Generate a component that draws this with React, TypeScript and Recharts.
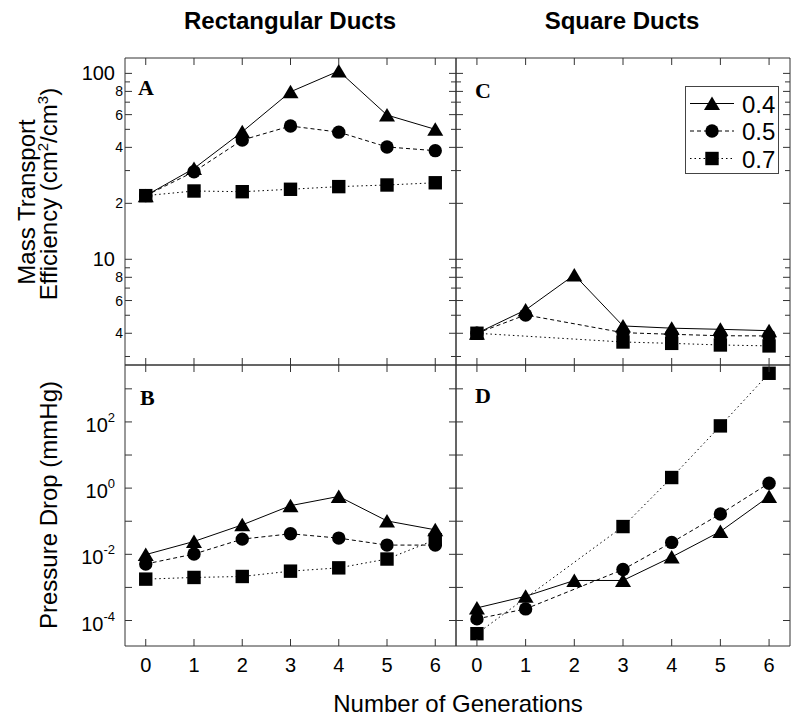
import React from 'react';
import { LineChart, Line, XAxis, YAxis, ReferenceArea, Legend } from 'recharts';

// ---------- data ----------
const generations = [0, 1, 2, 3, 4, 5, 6];
const seriesLabels = ['0.4', '0.5', '0.7'];

// Panel A: rectangular ducts, mass transport efficiency (cm2/cm3)
const rectEfficiency04 = [22, 30.8, 48.5, 79.6, 103, 59.7, 50];
const rectEfficiency05 = [22, 29.6, 43.8, 52.1, 48.3, 40.2, 38.4];
const rectEfficiency07 = [22, 23.3, 23.1, 23.8, 24.6, 25.1, 25.8];

// Panel C: square ducts, mass transport efficiency
const squareEfficiency04 = [4.0, 5.34, 8.24, 4.38, 4.26, 4.2, 4.13];
const squareEfficiency05 = [4.0, 5.02, null, 4.03, 3.95, 3.88, 3.87];
const squareEfficiency07 = [4.0, null, null, 3.59, 3.53, 3.46, 3.42];

// Panel B: rectangular ducts, pressure drop (mmHg)
const rectPressure04 = [0.0098, 0.0245, 0.0776, 0.295, 0.562, 0.102, 0.055];
const rectPressure05 = [0.0051, 0.0102, 0.0288, 0.0417, 0.0309, 0.019, 0.019];
const rectPressure07 = [0.00178, 0.002, 0.00214, 0.0031, 0.0039, 0.0072, 0.0275];

// Panel D: square ducts, pressure drop (mmHg)
const squarePressure04 = [0.00024, 0.00054, 0.00162, 0.00162, 0.0083, 0.049, 0.56];
const squarePressure05 = [0.000112, 0.000224, null, 0.00347, 0.0229, 0.166, 1.41];
const squarePressure07 = [0.00004, null, null, 0.069, 2.09, 75.9, 2950];

// axis ticks
const efficiencyTicks = [3, 4, 5, 6, 7, 8, 9, 10, 20, 30, 40, 50, 60, 70, 80, 90, 100];
const efficiencyMajorLabels: Record<number, string> = { 100: '100', 10: '10' };
const efficiencyMinorLabels: Record<number, string> = { 80: '8', 60: '6', 40: '4', 20: '2', 8: '8', 6: '6', 4: '4' };
const pressureTicks = [1e-4, 1e-3, 1e-2, 1e-1, 1, 10, 100, 1000];
const pressureLabelExponents = [-4, -2, 0, 2];

// ---------- layout / style ----------
const W = 800;
const H = 725;
const X_DOMAIN: [number, number] = [-0.43, 6.43];
const EFF_DOMAIN: [number, number] = [2.7, 121];
const DROP_DOMAIN: [number, number] = [Math.pow(10, -4.77), Math.pow(10, 3.72)];
const FONT = '"Liberation Sans", Arial, Helvetica, sans-serif';
const SERIF = '"Liberation Serif", "Times New Roman", serif';
const FRAME = '#333';
const YW = 50;
const XH = 40;

const COL_LEFT = [125, 456];
const COL_RIGHT = [456, 790];
const ROW_TOP = [58, 365];
const ROW_BOTTOM = [365, 646];

type Shape = 'triangle' | 'circle' | 'square';

function buildData(a: (number | null)[], b: (number | null)[], c: (number | null)[]) {
  return generations.map((g, i) => ({ g, s04: a[i], s05: b[i], s07: c[i] }));
}

function markerRenderer(shape: Shape) {
  return (props: any) => {
    const { cx, cy, index, value } = props;
    const key = `${shape}-${index}`;
    if (cx == null || cy == null || value == null || Number.isNaN(cy)) return <g key={key} />;
    if (shape === 'triangle') {
      return (
        <path key={key} d={`M${cx},${cy - 7} L${cx + 8},${cy + 6.5} L${cx - 8},${cy + 6.5} Z`} fill="#000" />
      );
    }
    if (shape === 'circle') return <circle key={key} cx={cx} cy={cy} r={6.7} fill="#000" />;
    return <rect key={key} x={cx - 6.7} y={cy - 6.7} width={13.4} height={13.4} fill="#000" />;
  };
}

function yTickRenderer(plotW: number, kind: 'eff' | 'drop', showLabels: boolean) {
  return (props: any) => {
    const { x, y, payload, index } = props;
    const v = payload.value as number;
    let len = 7;
    let label: React.ReactNode = null;
    if (kind === 'eff') {
      const major = efficiencyMajorLabels[v];
      const minor = efficiencyMinorLabels[v];
      len = major || minor ? 7 : 5;
      if (showLabels && major) {
        label = (
          <text x={x - 10} y={y + 7} textAnchor="end" fontSize={20} fontFamily={FONT} fill="#000">
            {major}
          </text>
        );
      } else if (showLabels && minor) {
        label = (
          <text x={x - 2} y={y + 5} textAnchor="end" fontSize={14} fontFamily={FONT} fill="#000">
            {minor}
          </text>
        );
      }
    } else {
      const e = Math.round(Math.log10(v));
      if (showLabels && pressureLabelExponents.includes(e)) {
        label = (
          <text x={x - 10} y={y + 10} textAnchor="end" fontSize={20} fontFamily={FONT} fill="#000">
            <tspan>10</tspan>
            <tspan dy={-10} fontSize={13}>{String(e)}</tspan>
          </text>
        );
      }
    }
    return (
      <g key={`yt-${index}`}>
        <line x1={x} x2={x + len} y1={y} y2={y} stroke={FRAME} strokeWidth={1} />
        <line x1={x + plotW - len} x2={x + plotW} y1={y} y2={y} stroke={FRAME} strokeWidth={1} />
        {label}
      </g>
    );
  };
}

function xTickRenderer(plotH: number, showLabels: boolean) {
  return (props: any) => {
    const { x, y, payload, index } = props;
    return (
      <g key={`xt-${index}`}>
        <line x1={x} x2={x} y1={y} y2={y - 7} stroke={FRAME} strokeWidth={1} />
        <line x1={x} x2={x} y1={y - plotH} y2={y - plotH + 7} stroke={FRAME} strokeWidth={1} />
        {showLabels && (
          <text x={x} y={y + 26} textAnchor="middle" fontSize={20} fontFamily={FONT} fill="#000">
            {payload.value}
          </text>
        )}
      </g>
    );
  };
}

const LegendBox = () => (
  <div style={{ width: 94, height: 88, border: '1px solid #444', background: '#fff', boxSizing: 'border-box' }}>
    <svg width={92} height={86} style={{ display: 'block' }}>
      {seriesLabels.map((lab, i) => {
        const cy = 16.5 + i * 27.5;
        const shape: Shape = i === 0 ? 'triangle' : i === 1 ? 'circle' : 'square';
        const dash = i === 0 ? undefined : i === 1 ? '4 3' : '1.5 3';
        const Marker = markerRenderer(shape);
        return (
          <g key={lab}>
            <line x1={4} x2={48} y1={cy} y2={cy} stroke="#000" strokeWidth={1} strokeDasharray={dash} />
            {Marker({ cx: 26, cy, index: i, value: 1 })}
            <text x={56} y={cy + 9} fontSize={24} fontFamily={FONT} fill="#000">
              {lab}
            </text>
          </g>
        );
      })}
    </svg>
  </div>
);

type PanelProps = {
  data: any[];
  cols: number[];
  rows: number[];
  kind: 'eff' | 'drop';
  showYLabels: boolean;
  showXLabels: boolean;
  legend?: boolean;
};

function Panel({ data, cols, rows, kind, showYLabels, showXLabels, legend }: PanelProps) {
  const plotW = cols[1] - cols[0];
  const plotH = rows[1] - rows[0];
  const yDomain = kind === 'eff' ? EFF_DOMAIN : DROP_DOMAIN;
  const yTicks = kind === 'eff' ? efficiencyTicks : pressureTicks;
  return (
    <div style={{ position: 'absolute', left: 0, top: 0 }}>
      <LineChart
        width={W}
        height={H}
        data={data}
        margin={{ top: rows[0], left: cols[0] - YW, right: W - cols[1], bottom: H - rows[1] - XH }}
      >
        <XAxis
          dataKey="g"
          type="number"
          domain={X_DOMAIN}
          ticks={generations}
          allowDataOverflow
          interval={0}
          tickSize={0}
          tickMargin={0}
          tickLine={false}
          axisLine={false}
          height={XH}
          tick={xTickRenderer(plotH, showXLabels)}
        />
        <YAxis
          type="number"
          scale="log"
          domain={yDomain}
          ticks={yTicks}
          allowDataOverflow
          interval={0}
          tickSize={0}
          tickMargin={0}
          tickLine={false}
          axisLine={false}
          width={YW}
          tick={yTickRenderer(plotW, kind, showYLabels)}
        />
        <ReferenceArea
          x1={X_DOMAIN[0]}
          x2={X_DOMAIN[1]}
          y1={yDomain[0]}
          y2={yDomain[1]}
          fill="none"
          fillOpacity={0}
          stroke={FRAME}
          strokeWidth={1}
          ifOverflow="visible"
        />
        <Line
          dataKey="s07"
          stroke="#000"
          strokeWidth={1}
          strokeDasharray="1.5 3"
          dot={markerRenderer('square')}
          activeDot={false}
          isAnimationActive={false}
          connectNulls
          legendType="none"
        />
        <Line
          dataKey="s05"
          stroke="#000"
          strokeWidth={1}
          strokeDasharray="4 3"
          dot={markerRenderer('circle')}
          activeDot={false}
          isAnimationActive={false}
          connectNulls
          legendType="none"
        />
        <Line
          dataKey="s04"
          stroke="#000"
          strokeWidth={1}
          dot={markerRenderer('triangle')}
          activeDot={false}
          isAnimationActive={false}
          connectNulls
          legendType="none"
        />
        {legend && (
          <Legend
            content={LegendBox}
            layout="horizontal"
            verticalAlign="middle"
            align="center"
            wrapperStyle={{ left: 685, top: 86, width: 94, height: 88 }}
          />
        )}
      </LineChart>
    </div>
  );
}

const dataA = buildData(rectEfficiency04, rectEfficiency05, rectEfficiency07);
const dataC = buildData(squareEfficiency04, squareEfficiency05, squareEfficiency07);
const dataB = buildData(rectPressure04, rectPressure05, rectPressure07);
const dataD = buildData(squarePressure04, squarePressure05, squarePressure07);

export default function App() {
  return (
    <div style={{ position: 'absolute', left: 0, top: 0, width: W, height: H, background: '#fff', overflow: 'hidden' }}>
      <Panel data={dataA} cols={COL_LEFT} rows={ROW_TOP} kind="eff" showYLabels showXLabels={false} />
      <Panel data={dataC} cols={COL_RIGHT} rows={ROW_TOP} kind="eff" showYLabels={false} showXLabels={false} legend />
      <Panel data={dataB} cols={COL_LEFT} rows={ROW_BOTTOM} kind="drop" showYLabels showXLabels />
      <Panel data={dataD} cols={COL_RIGHT} rows={ROW_BOTTOM} kind="drop" showYLabels={false} showXLabels />
      <svg width={W} height={H} style={{ position: 'absolute', left: 0, top: 0, pointerEvents: 'none' }}>
        <text x={290} y={29} textAnchor="middle" fontSize={24} fontWeight="bold" fontFamily={FONT} fill="#000">
          Rectangular Ducts
        </text>
        <text x={622} y={29} textAnchor="middle" fontSize={24} fontWeight="bold" fontFamily={FONT} fill="#000">
          Square Ducts
        </text>
        <text transform="translate(35,202) rotate(-90)" textAnchor="middle" fontSize={24} fontFamily={FONT} fill="#000">
          Mass Transport
        </text>
        <text transform="translate(57,194) rotate(-90)" textAnchor="middle" fontSize={24} fontFamily={FONT} fill="#000">
          <tspan>Efficiency (cm</tspan>
          <tspan dy={-9} fontSize={15}>2</tspan>
          <tspan dy={9}>/cm</tspan>
          <tspan dy={-9} fontSize={15}>3</tspan>
          <tspan dy={9}>)</tspan>
        </text>
        <text transform="translate(57,505) rotate(-90)" textAnchor="middle" fontSize={24} fontFamily={FONT} fill="#000">
          Pressure Drop (mmHg)
        </text>
        <text x={458} y={712} textAnchor="middle" fontSize={24} fontFamily={FONT} fill="#000">
          Number of Generations
        </text>
        <text x={138} y={95} fontSize={22} fontWeight="bold" fontFamily={SERIF} fill="#000">A</text>
        <text x={140} y={405} fontSize={22} fontWeight="bold" fontFamily={SERIF} fill="#000">B</text>
        <text x={475} y={98} fontSize={22} fontWeight="bold" fontFamily={SERIF} fill="#000">C</text>
        <text x={475} y={403} fontSize={22} fontWeight="bold" fontFamily={SERIF} fill="#000">D</text>
      </svg>
    </div>
  );
}
